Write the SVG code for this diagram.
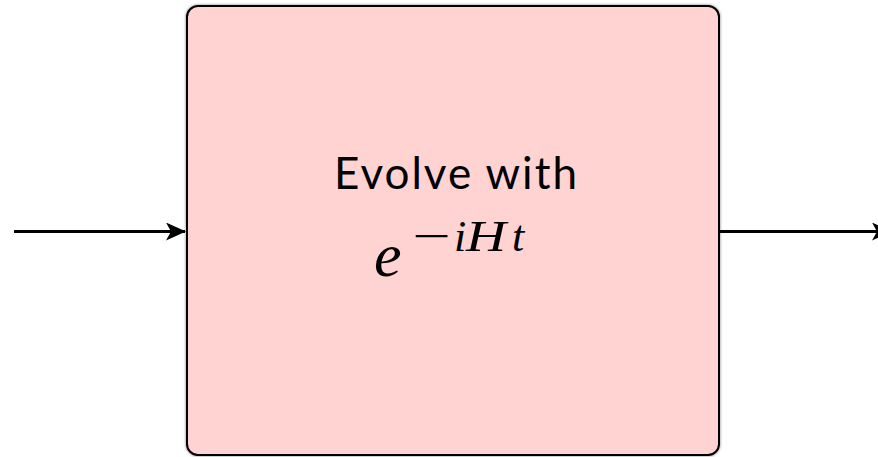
<svg xmlns="http://www.w3.org/2000/svg" width="878" height="457" viewBox="0 0 878 457">
<style>
.lbl{font-family:Lato,"Noto Sans",sans-serif;font-size:44px;fill:#000}
.math{font-family:"Liberation Serif","DejaVu Serif",serif;font-style:italic;fill:#000}
.sup{font-size:44px}
.conn{stroke:#000;stroke-width:3;fill:none}
</style>
<defs>
<marker id="ah" markerWidth="20" markerHeight="18" refX="19" refY="9" orient="auto" markerUnits="userSpaceOnUse">
<path d="M0,0 L20,9 L0,18 L5,9 Z" fill="#000"/>
</marker>
<filter id="sh" x="-5%" y="-5%" width="110%" height="110%">
<feGaussianBlur in="SourceAlpha" stdDeviation="1.5"/>
<feComponentTransfer><feFuncA type="linear" slope="0.5"/></feComponentTransfer>
<feMerge><feMergeNode/><feMergeNode in="SourceGraphic"/></feMerge>
</filter>
</defs>
<rect width="878" height="457" fill="#fff"/>
<g id="connectors">
<line class="conn" x1="14" y1="231.5" x2="185" y2="231.5" marker-end="url(#ah)"/>
<line class="conn" x1="720" y1="231.5" x2="891" y2="231.5" marker-end="url(#ah)"/>
</g>
<g id="evolve">
<rect x="187" y="6" width="532" height="449" rx="11" fill="#ffd3d1" stroke="#000" stroke-width="2" filter="url(#sh)"/>
<text class="lbl" x="334" y="189" textLength="243" lengthAdjust="spacing">Evolve with</text>
<text class="math" x="374" y="276" font-size="62">e</text>
<text class="math sup" x="408" y="251" textLength="46" lengthAdjust="spacingAndGlyphs">−</text>
<text class="math sup" x="454" y="251">i</text>
<text class="math sup" x="466" y="251" textLength="40" lengthAdjust="spacingAndGlyphs">H</text>
<text class="math sup" x="512" y="251">t</text>
</g>
</svg>
